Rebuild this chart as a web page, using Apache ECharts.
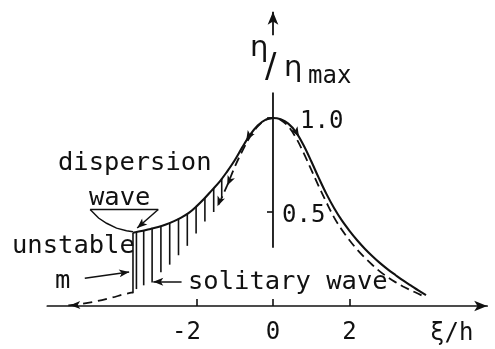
<!DOCTYPE html>
<html>
<head>
<meta charset="utf-8">
<script src="https://cdn.jsdelivr.net/npm/echarts@6/dist/echarts.min.js"></script>
<style>
  html, body { margin: 0; padding: 0; background: #fff; }
  #chart { width: 495px; height: 349px; }
</style>
</head>
<body>
<div id="chart"></div>
<script>
// Dispersion-wave profile, eta / eta_max against xi / h (solid line)
const profileX = [-3.66, -3.4, -3.2, -3.0, -2.8, -2.6, -2.4, -2.2, -2.0, -1.8, -1.6, -1.4, -1.2, -1.0, -0.8, -0.6, -0.4, -0.2, 0,
                  0.2, 0.4, 0.6, 0.8, 1.0, 1.2, 1.4, 1.6, 1.8, 2.0, 2.2, 2.4, 2.6, 2.8, 3.0, 3.2, 3.4, 3.6, 3.8, 4.0];
const profileY = [0.39, 0.40, 0.41, 0.42, 0.433, 0.45, 0.47, 0.495, 0.53, 0.57, 0.615, 0.66, 0.715, 0.775, 0.845, 0.91, 0.96, 0.99, 1.0,
                  0.993, 0.97, 0.925, 0.855, 0.77, 0.68, 0.595, 0.52, 0.455, 0.40, 0.35, 0.305, 0.265, 0.228, 0.195, 0.165, 0.136, 0.11, 0.083, 0.058];

// Solitary wave (dashed): the left tail below the unstable front, and the main body
const solitaryTailX = [-5.35, -5.0, -4.6, -4.2, -3.9, -3.66];
const solitaryTailY = [0.003, 0.012, 0.026, 0.045, 0.062, 0.072];
const solitaryX = [-1.42, -1.2, -1.0, -0.8, -0.6, -0.4, -0.2, 0, 0.2, 0.4, 0.6, 0.8, 1.0, 1.2, 1.4,
                   1.6, 1.8, 2.0, 2.2, 2.4, 2.6, 2.8, 3.0, 3.2, 3.4, 3.6, 3.8, 3.95];
const solitaryY = [0.54, 0.64, 0.74, 0.825, 0.9, 0.955, 0.99, 1.0, 0.99, 0.955, 0.895, 0.815, 0.725, 0.635, 0.55,
                   0.47, 0.405, 0.35, 0.30, 0.257, 0.218, 0.183, 0.153, 0.127, 0.104, 0.084, 0.065, 0.05];

// Hatched band between the dispersion wave (top) and the solitary wave (bottom)
const hatchX      = [-3.66, -3.57, -3.38, -3.16, -2.93, -2.70, -2.47, -2.24, -2.01, -1.78, -1.55, -1.34];
const hatchTop    = [0.39, 0.392, 0.40, 0.412, 0.425, 0.443, 0.466, 0.49, 0.528, 0.575, 0.625, 0.68];
const hatchBottom = [0.068, 0.09, 0.11, 0.125, 0.18, 0.22, 0.27, 0.32, 0.385, 0.45, 0.50, 0.575];

// Axis ticks
const xTickValues = [-2, 0, 2];
const yTickValues = [0.5, 1.0];

// Leader lines of the annotations, in axis units
const calloutCurve  = [[-4.78, 0.513], [-4.56, 0.468], [-4.35, 0.44], [-4.09, 0.414], [-3.83, 0.40], [-3.66, 0.395]];
const calloutLine   = [[-4.78, 0.513], [-3.0, 0.513]];
const calloutArrow  = [[-3.0, 0.513], [-3.55, 0.415]];
const mArrow        = [[-4.92, 0.147], [-3.76, 0.181]];
const solitaryArrow = [[-2.39, 0.129], [-3.13, 0.129]];
const yAxisStem     = [[0, 0.31], [0, 1.135]];
const yAxisHead     = [[0, 1.44], [0, 1.565]];

// Small direction arrows drawn along the profiles: [x, y, rotation]
const flowArrows = [[-1.2, 0.64, 155], [-1.45, 0.53, 158], [-0.7, 0.88, 150], [0.68, 0.9, -150], [-5.3, 0.004, 92]];

const INK = '#111';
const FONT = '"DejaVu Sans Mono", monospace';
const GREEK = '"DejaVu Sans", sans-serif';

// Plot frame
const X_MIN = -5.9, X_MAX = 5.6, Y_MIN = 0, Y_MAX = 1.6;
const GRID = { left: 47.3, right: 7.8, top: 5.2, bottom: 43 };
const gridWidth = 495 - GRID.left - GRID.right;
// the ordinate sits on xi = 0, inside the frame
const yAxisOffset = -gridWidth * (0 - X_MIN) / (X_MAX - X_MIN);

const pairs = (xs, ys) => xs.map((x, i) => [x, ys[i]]);

function textAt(text, x, baseline, size, family) {
  return {
    type: 'text',
    x: x,
    y: baseline - 0.35 * size,
    style: {
      text: text,
      fill: INK,
      font: size + 'px ' + (family || FONT),
      verticalAlign: 'middle',
      align: 'left'
    }
  };
}

const chart = echarts.init(document.getElementById('chart'), null, { renderer: 'canvas' });

const option = {
  animation: false,
  backgroundColor: '#fff',
  grid: Object.assign({ containLabel: false, outerBoundsMode: 'none' }, GRID),
  xAxis: {
    type: 'value',
    min: X_MIN,
    max: X_MAX,
    axisLine: {
      onZero: false,
      symbol: ['none', 'arrow'],
      symbolSize: [8, 13],
      lineStyle: { color: INK, width: 1.7 }
    },
    axisTick: { customValues: xTickValues, inside: true, length: 7, lineStyle: { color: INK, width: 1.6 } },
    axisLabel: {
      customValues: xTickValues,
      margin: 15,
      color: INK,
      fontFamily: FONT,
      fontSize: 24,
      formatter: v => (v < 0 ? '{neg|' + v + '}' : String(v)),
      rich: { neg: { padding: [0, 20, 0, 0], color: INK, fontFamily: FONT, fontSize: 24 } }
    },
    splitLine: { show: false }
  },
  yAxis: {
    type: 'value',
    min: Y_MIN,
    max: Y_MAX,
    offset: yAxisOffset,
    axisLine: { show: false, onZero: false },
    axisTick: { customValues: yTickValues, length: 6, lineStyle: { color: INK, width: 1.6 } },
    axisLabel: {
      customValues: yTickValues,
      inside: true,
      margin: 9,
      color: INK,
      fontFamily: FONT,
      fontSize: 24,
      formatter: v => (v === 1 ? '{hi|' + v.toFixed(1) + '}' : '{lo|' + v.toFixed(1) + '}'),
      rich: {
        hi: { padding: [8, 0, 0, 18], color: INK, fontFamily: FONT, fontSize: 24 },
        lo: { padding: [8, 0, 0, 0], color: INK, fontFamily: FONT, fontSize: 24 }
      }
    },
    splitLine: { show: false }
  },
  series: [
    {
      name: 'dispersion wave',
      type: 'line',
      data: pairs(profileX, profileY),
      smooth: 0.35,
      showSymbol: false,
      lineStyle: { color: INK, width: 2.1 },
      z: 3,
      markPoint: {
        silent: true,
        label: { show: false },
        data: flowArrows.map(a => ({
          coord: [a[0], a[1]],
          symbol: 'arrow',
          symbolSize: [6, 10],
          symbolRotate: a[2],
          itemStyle: { color: INK }
        }))
      }
    },
    {
      name: 'solitary wave tail',
      type: 'line',
      data: pairs(solitaryTailX, solitaryTailY),
      smooth: 0.3,
      showSymbol: false,
      lineStyle: { color: INK, width: 1.8, type: [9, 6] }
    },
    {
      name: 'solitary wave',
      type: 'line',
      data: pairs(solitaryX, solitaryY),
      smooth: 0.35,
      showSymbol: false,
      lineStyle: { color: INK, width: 1.8, type: [9, 5] }
    },
    {
      name: 'hatch',
      type: 'custom',
      data: hatchX.map((x, i) => [x, hatchTop[i], hatchBottom[i]]),
      encode: { x: 0, y: [1, 2] },
      renderItem: (params, api) => {
        const p1 = api.coord([api.value(0), api.value(1)]);
        const p2 = api.coord([api.value(0), api.value(2)]);
        return {
          type: 'line',
          shape: { x1: p1[0], y1: p1[1], x2: p2[0], y2: p2[1] },
          style: { stroke: INK, lineWidth: 1.6 }
        };
      }
    },
    {
      name: 'leaders',
      type: 'lines',
      coordinateSystem: 'cartesian2d',
      polyline: true,
      symbol: 'none',
      lineStyle: { color: INK, width: 1.5, opacity: 1 },
      data: [
        { coords: calloutCurve },
        { coords: calloutLine },
        { coords: yAxisStem, lineStyle: { width: 1.8 } }
      ]
    },
    {
      name: 'pointers',
      type: 'lines',
      coordinateSystem: 'cartesian2d',
      symbol: ['none', 'arrow'],
      symbolSize: [[6, 10], [6, 10]],
      lineStyle: { color: INK, width: 1.5, opacity: 1 },
      data: [
        { coords: calloutArrow },
        { coords: mArrow },
        { coords: solitaryArrow }
      ]
    },
    {
      name: 'ordinate head',
      type: 'lines',
      coordinateSystem: 'cartesian2d',
      symbol: ['none', 'arrow'],
      symbolSize: [[8, 13], [8, 13]],
      lineStyle: { color: INK, width: 1.8, opacity: 1 },
      data: [{ coords: yAxisHead }]
    }
  ],
  graphic: [
    textAt('dispersion', 58, 172, 25.5),
    textAt('wave', 89, 207, 25.5),
    textAt('unstable', 12, 255, 25.5),
    textAt('m', 55, 290, 25.5),
    textAt('solitary wave', 188, 291, 25.5),
    textAt('ξ/h', 430, 342, 24),
    textAt('η', 250, 59, 29, GREEK),
    textAt('/', 265, 80, 34, GREEK),
    textAt('η', 284, 79, 29, GREEK),
    textAt('max', 308, 85, 24)
  ]
};

chart.setOption(option);
</script>
</body>
</html>
